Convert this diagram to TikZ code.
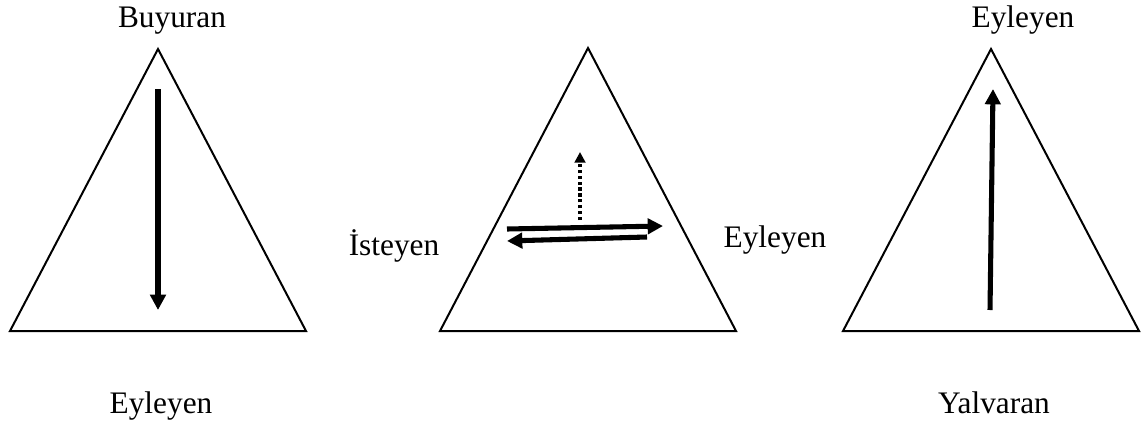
\documentclass[tikz,border=0pt]{standalone}
\usepackage{fontspec}
\setmainfont{Liberation Serif}
\usetikzlibrary{arrows.meta}

\begin{document}
\begin{tikzpicture}[
  x=0.75pt, y=-0.75pt,
  tri/.style={draw, line width=1.5pt, line join=miter},
  label/.style={font=\fontsize{23.5}{28}\selectfont, inner sep=0pt, anchor=base},
  bigarrow/.style={line width=3.8pt, -{Triangle[length=11.5pt, width=11.5pt]}},
  dotarrow/.style={line width=2.4pt, dash pattern=on 2.4pt off 2pt,
    -{Triangle[length=8pt, width=8pt]}},
]
  \useasboundingbox (0,0) rectangle (1148,425);

  % Left: Buyuran -> Eyleyen
  \draw[tri] (10,331) -- (158,49) -- (306,331) -- cycle;
  \node[label] (buy) at (172,27) {Buyuran};
  \node[label] (eyl1) at (161,413) {Eyleyen};
  \coordinate (a1) at (158,89);
  \coordinate (b1) at (158,310);
  \draw[bigarrow] (a1) -- (b1);

  % Middle: Isteyen <-> Eyleyen
  \draw[tri] (440,331) -- (588,48) -- (736,331) -- cycle;
  \node[label] (ist) at (394,255) {İsteyen};
  \node[label] (eyl2) at (775,247) {Eyleyen};
  \coordinate (a2) at (507,229);
  \coordinate (b2) at (663,226);
  \coordinate (c2) at (647,237);
  \coordinate (d2) at (507,241);
  \coordinate (e2) at (580,220);
  \coordinate (f2) at (580,152);
  \draw[bigarrow] (a2) -- (b2);
  \draw[bigarrow] (c2) -- (d2);
  \draw[dotarrow] (e2) -- (f2);

  % Right: Yalvaran -> Eyleyen
  \draw[tri] (843,331) -- (991,49) -- (1139,331) -- cycle;
  \node[label] (eyl3) at (1023,27) {Eyleyen};
  \node[label] (yal) at (994,413) {Yalvaran};
  \coordinate (a3) at (990,310);
  \coordinate (b3) at (993,89);
  \draw[bigarrow] (a3) -- (b3);
\end{tikzpicture}
\end{document}
